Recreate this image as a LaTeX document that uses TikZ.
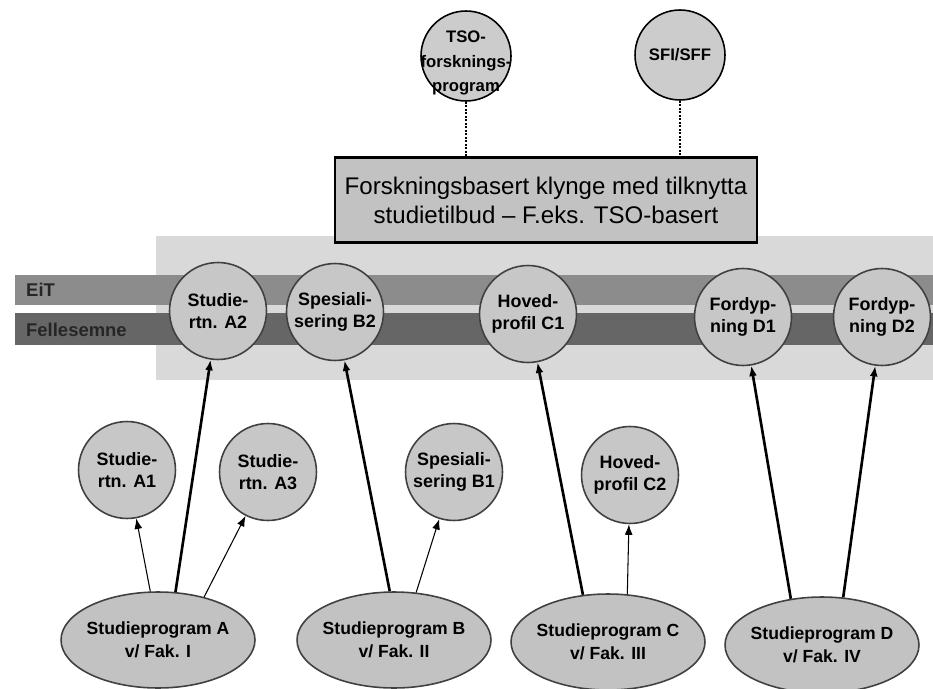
\documentclass[tikz,border=0pt]{standalone}
\usepackage{fontspec}
\setmainfont{Liberation Sans}
\usetikzlibrary{arrows.meta,shapes.geometric}

\begin{document}
\begin{tikzpicture}[x=0.02cm,y=-0.02cm,>={Latex[length=6pt,width=4.5pt]},
    kreis/.style={circle,draw=black!75,line width=0.9pt,fill=black!22,minimum size=1.94cm,inner sep=0pt,align=center,font=\bfseries\fontsize{10.2}{12.8}\selectfont},
    topkreis/.style={circle,draw=black,line width=0.9pt,fill=black!20,minimum size=1.8cm,inner sep=0pt},
    toptext/.style={align=center,yshift=-4pt,font=\bfseries\fontsize{9.5}{14}\selectfont},
    prog/.style={ellipse,draw=black!75,line width=0.9pt,fill=black!24,minimum width=3.88cm,minimum height=1.92cm,inner sep=0pt},
    progtext/.style={align=center,font=\bfseries\fontsize{10}{13}\selectfont},
    bandtext/.style={anchor=west,text=black!85,font=\bfseries\fontsize{10.5}{12}\selectfont},
    tyk/.style={->,line width=1.5pt},
    tynn/.style={->,line width=0.6pt}]
        \useasboundingbox (0,0) rectangle (933,689);

        \fill[black!15] (156,236) rectangle (933,380);
        \fill[black!45] (15,275) rectangle (933,305);
        \fill[black!60] (15,313) rectangle (933,345);
        \node[bandtext] (eit) at (20,290) {EiT};
        \node[bandtext] (felles) at (20,330) {Fellesemne};

        \node[topkreis, label={[toptext]center:{TSO-\\forsknings-\\program}}] (tso) at (466,56) {};
        \node[topkreis, label={[toptext,yshift=4pt]center:{SFI/SFF}}] (sfi) at (680,55) {};
        \node[draw, line width=1.4pt, fill=black!24, minimum width=8.44cm, minimum height=1.7cm, align=center, font=\fontsize{13.7}{16.5}\selectfont] (klynge) at (546,200)
            {Forskningsbasert klynge med tilknytta\\studietilbud -- F.eks. TSO-basert};
        \draw[densely dotted, line width=1pt] (tso) -- (tso |- klynge.north);
        \draw[densely dotted, line width=1pt] (sfi) -- (sfi |- klynge.north);

        \node[kreis] (A2) at (218,311) {Studie-\\rtn. A2};
        \node[kreis] (B2) at (335,312) {Spesiali-\\sering B2};
        \node[kreis] (C1) at (528,314) {Hoved-\\profil C1};
        \node[kreis] (D1) at (743,317) {Fordyp-\\ning D1};
        \node[kreis] (D2) at (882,317) {Fordyp-\\ning D2};

        \node[kreis] (A1) at (127,470) {Studie-\\rtn. A1};
        \node[kreis] (A3) at (268,472) {Studie-\\rtn. A3};
        \node[kreis] (B1) at (454,472) {Spesiali-\\sering B1};
        \node[kreis] (C2) at (630,475) {Hoved-\\profil C2};

        \node[prog, label={[progtext]center:{Studieprogram A\\v/ Fak. I}}] (spA) at (158,640) {};
        \node[prog, label={[progtext]center:{Studieprogram B\\v/ Fak. II}}] (spB) at (394,640) {};
        \node[prog, label={[progtext]center:{Studieprogram C\\v/ Fak. III}}] (spC) at (608,642) {};
        \node[prog, label={[progtext]center:{Studieprogram D\\v/ Fak. IV}}] (spD) at (822,645) {};

        \draw[tyk] (spA.70) -- (A2);
        \draw[tyk] (spB.95) -- (B2);
        \draw[tyk] (spC.118) -- (C1);
        \draw[tyk] (spD.124) -- (D1);
        \draw[tyk] (spD.66) -- (D2);

        \draw[tynn] (spA.99) -- (A1);
        \draw[tynn] (spA.43) -- (A3);
        \draw[tynn] (spB.65) -- (B1);
        \draw[tynn] (spC.68) -- (C2);
\end{tikzpicture}
\end{document}
